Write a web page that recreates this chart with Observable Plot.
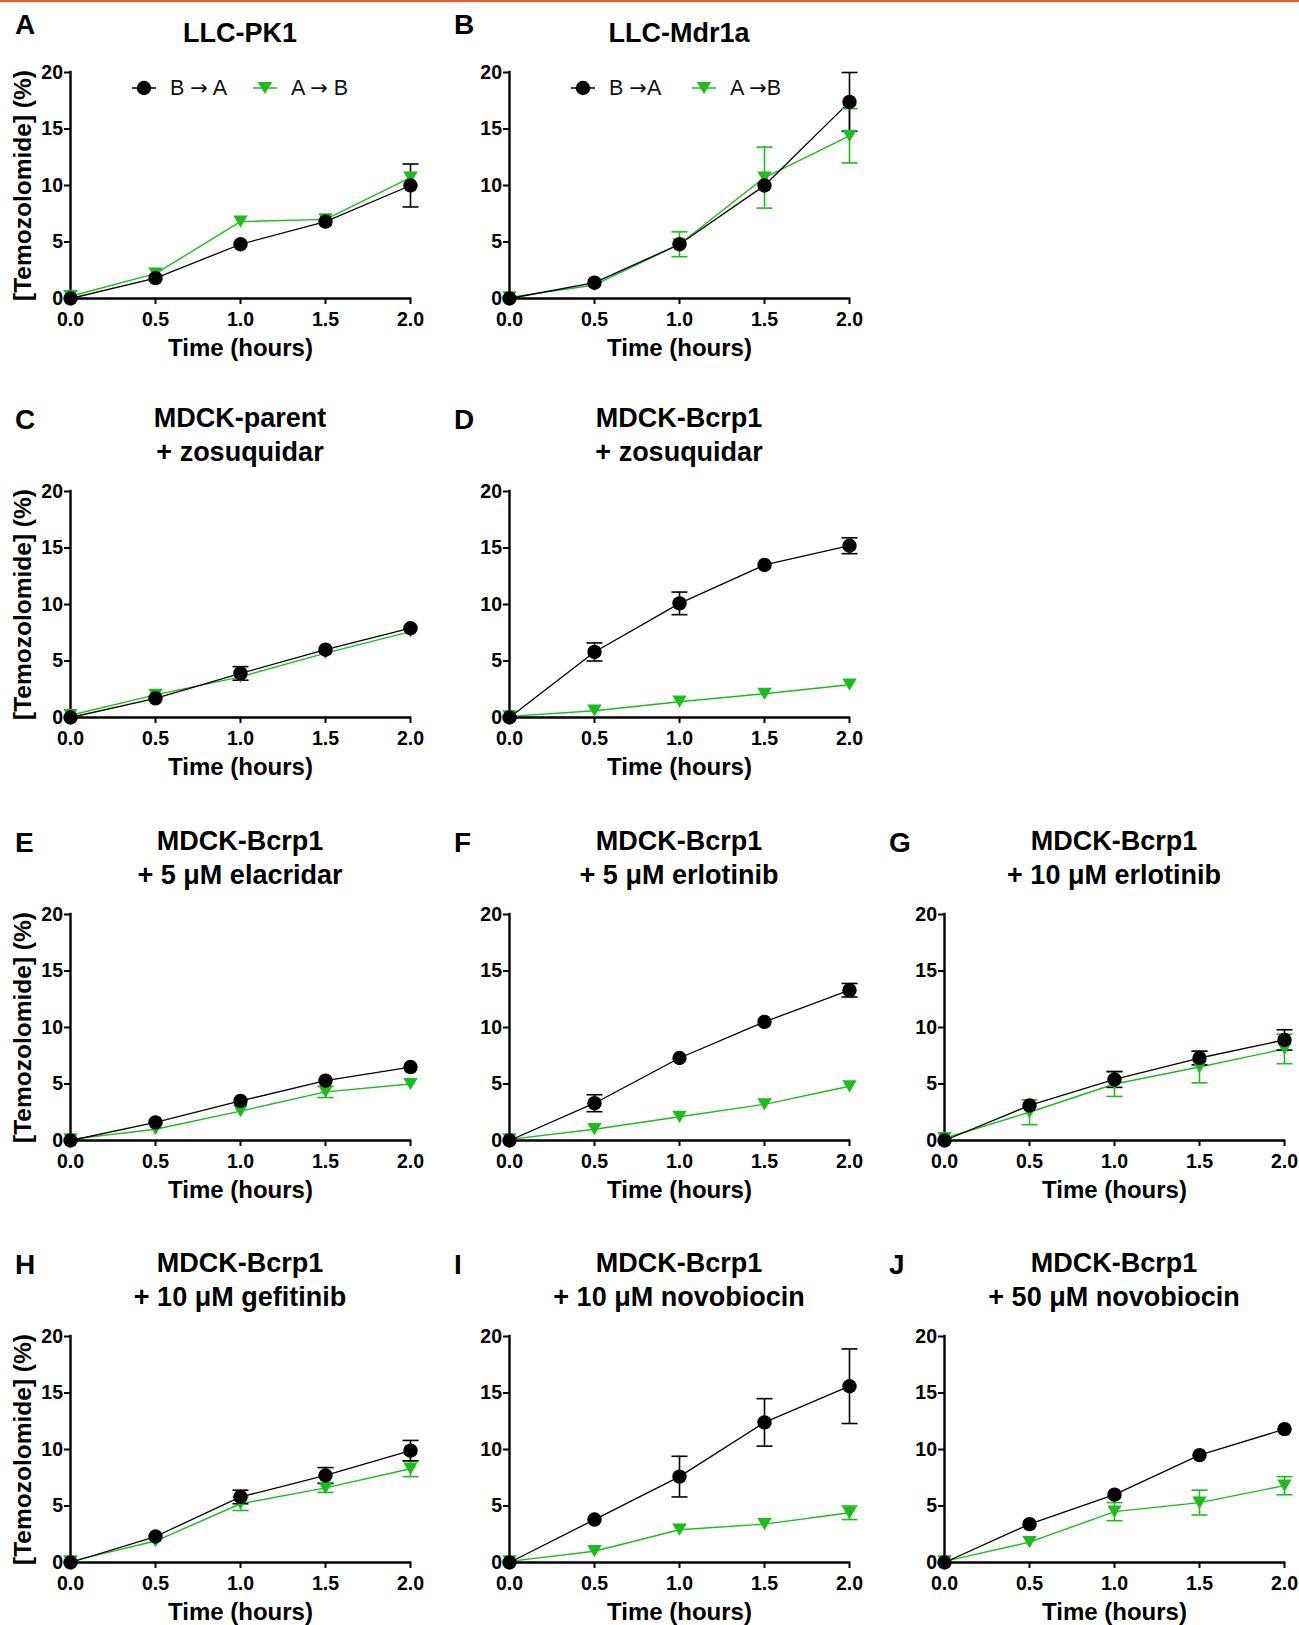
<!DOCTYPE html>
<html>
<head>
<meta charset="utf-8">
<script src="https://cdn.jsdelivr.net/npm/d3@7"></script>
<script src="https://cdn.jsdelivr.net/npm/@observablehq/plot@0.6"></script>
<style>
  html, body { margin: 0; padding: 0; background: #fff; }
  body { width: 1299px; height: 1625px; position: relative; overflow: hidden;
         font-family: "Liberation Sans", Arial, Helvetica, sans-serif; color: #000; }
  .topbar { position: absolute; left: 0; top: 0; width: 1299px; height: 2px; background: #f05a28; }
  .panel { position: absolute; }
  .panel svg { overflow: visible; max-width: none !important; }
  .letter { position: absolute; font-weight: bold; font-size: 28px; line-height: 28px; white-space: nowrap; }
  .title { position: absolute; font-weight: bold; font-size: 27px; line-height: 34px; text-align: center; white-space: nowrap; }
  .legend-item { position: absolute; font-size: 21.5px; line-height: 22px; white-space: nowrap; color: #111; }
  .legend-item .arr { font-family: "DejaVu Sans", sans-serif; font-size: 21px; font-weight: normal; }
  .legend-sym { position: absolute; }
</style>
</head>
<body>
<div class="topbar"></div>
<div id="root"></div>
<script>
// ---------- data ----------
const time = [0, 0.5, 1.0, 1.5, 2.0];
const xTicks = [0, 0.5, 1.0, 1.5, 2.0];
const yTicks = [0, 5, 10, 15, 20];
const xDomain = [0, 2];
const yDomain = [0, 20];

const panelLetters = ["A", "B", "C", "D", "E", "F", "G", "H", "I", "J"];
const panelTitles = [
  ["LLC-PK1"],
  ["LLC-Mdr1a"],
  ["MDCK-parent", "+ zosuquidar"],
  ["MDCK-Bcrp1", "+ zosuquidar"],
  ["MDCK-Bcrp1", "+ 5 \u03bcM elacridar"],
  ["MDCK-Bcrp1", "+ 5 \u03bcM erlotinib"],
  ["MDCK-Bcrp1", "+ 10 \u03bcM erlotinib"],
  ["MDCK-Bcrp1", "+ 10 \u03bcM gefitinib"],
  ["MDCK-Bcrp1", "+ 10 \u03bcM novobiocin"],
  ["MDCK-Bcrp1", "+ 50 \u03bcM novobiocin"]
];

// B -> A (black circles): mean and error per panel
const baMeans = [
  [0, 1.8, 4.8, 6.8, 10.0],
  [0, 1.4, 4.8, 10.0, 17.4],
  [0, 1.7, 3.9, 6.0, 7.9],
  [0, 5.8, 10.1, 13.5, 15.2],
  [0, 1.6, 3.5, 5.3, 6.5],
  [0, 3.3, 7.3, 10.5, 13.3],
  [0, 3.1, 5.4, 7.3, 8.9],
  [0, 2.3, 5.8, 7.7, 9.9],
  [0, 3.8, 7.6, 12.4, 15.6],
  [0, 3.4, 6.0, 9.5, 11.8]
];
const baErrors = [
  [0, 0, 0, 0, 1.9],
  [0, 0, 0, 0, 2.6],
  [0, 0, 0.6, 0, 0],
  [0, 0.8, 1.0, 0, 0.7],
  [0, 0, 0, 0, 0],
  [0, 0.75, 0, 0, 0.6],
  [0, 0, 0.7, 0.6, 0.9],
  [0, 0, 0.6, 0.7, 0.9],
  [0, 0, 1.8, 2.1, 3.3],
  [0, 0, 0, 0, 0]
];
// A -> B (green triangles)
const abMeans = [
  [0.2, 2.2, 6.8, 7.0, 10.7],
  [0.1, 1.2, 4.8, 10.7, 14.4],
  [0.2, 2.0, 3.6, 5.7, 7.6],
  [0.1, 0.6, 1.4, 2.1, 2.9],
  [0.1, 1.0, 2.6, 4.3, 5.0],
  [0.1, 1.0, 2.1, 3.2, 4.8],
  [0.2, 2.5, 5.0, 6.5, 8.1],
  [0.1, 1.9, 5.2, 6.6, 8.3],
  [0.1, 1.0, 2.9, 3.4, 4.4],
  [0.1, 1.8, 4.5, 5.3, 6.8]
];
const abErrors = [
  [0, 0, 0, 0, 0],
  [0, 0, 1.1, 2.7, 2.4],
  [0, 0, 0, 0, 0],
  [0, 0, 0, 0, 0],
  [0, 0, 0, 0.5, 0],
  [0, 0, 0, 0, 0],
  [0, 1.1, 1.1, 1.4, 1.3],
  [0, 0, 0.6, 0.4, 0.7],
  [0, 0, 0, 0, 0.6],
  [0, 0, 0.8, 1.1, 0.8]
];
// legend labels: [from, spacing before arrow, spacing after arrow, to]
const legendLabelsA = [["B", " ", " ", "A"], ["A", " ", " ", "B"]];
const legendLabelsB = [["B", " ", "", "A"], ["A", " ", "", "B"]];

// ---------- layout / style ----------
const GREEN = "#1dbb1d";
const colLeft = [70, 509, 944];
const rowTop = [72, 491, 914, 1336];
const plotW = 340, plotH = 226;
const M = {left: 70, right: 22, top: 12, bottom: 72};
const panelGrid = [[0,0],[0,1],[1,0],[1,1],[2,0],[2,1],[2,2],[3,0],[3,1],[3,2]];

const triDown = {
  draw(ctx, size) {
    const w = Math.sqrt(size / Math.PI);
    ctx.moveTo(-w, -0.85 * w);
    ctx.lineTo(w, -0.85 * w);
    ctx.lineTo(0, 0.85 * w);
    ctx.closePath();
  }
};
const capSym = {
  draw(ctx, size) {
    const w = Math.sqrt(size / Math.PI);
    ctx.moveTo(-w, 0);
    ctx.lineTo(w, 0);
  }
};

const root = document.getElementById("root");

function makePanel(i) {
  const [r, c] = panelGrid[i];
  const left = colLeft[c], top = rowTop[r];
  const rows = time.map((t, j) => ({
    t, ba: baMeans[i][j], baE: baErrors[i][j], ab: abMeans[i][j], abE: abErrors[i][j]
  }));
  const baBars = rows.filter(d => d.baE > 0);
  const abBars = rows.filter(d => d.abE > 0);
  const showYLabel = c === 0;
  const W = M.left + plotW + M.right, H = M.top + plotH + M.bottom;

  const chart = Plot.plot({
    width: W,
    height: H,
    marginLeft: M.left, marginRight: M.right, marginTop: M.top, marginBottom: M.bottom,
    x: {domain: xDomain},
    y: {domain: yDomain},
    style: {fontFamily: "'Liberation Sans', Arial, sans-serif", fontWeight: "bold", color: "#000", background: "transparent", overflow: "visible", maxWidth: "none"},
    marks: [
      Plot.axisX(xTicks, {tickSize: 6, tickPadding: 8, tickFormat: d3.format(".1f"), label: null, strokeWidth: 2, fontSize: 19.5}),
      Plot.axisX([], {label: "Time (hours)", labelAnchor: "center", labelArrow: "none", labelOffset: 57, fontSize: 24}),
      Plot.axisY(yTicks, {tickSize: 6, tickPadding: 1.5, label: null, strokeWidth: 2, fontSize: 19.5}),
      showYLabel ? Plot.axisY([], {label: "[Temozolomide] (%)", labelAnchor: "center", labelArrow: "none", labelOffset: 57, fontSize: 24.5}) : null,
      Plot.ruleX([xDomain[0]], {stroke: "#000", strokeWidth: 2.4, strokeLinecap: "square"}),
      Plot.ruleY([yDomain[0]], {stroke: "#000", strokeWidth: 2.4, strokeLinecap: "square"}),
      Plot.line(rows, {x: "t", y: "ab", stroke: GREEN, strokeWidth: 1.4}),
      Plot.line(rows, {x: "t", y: "ba", stroke: "#000", strokeWidth: 1.3}),
      Plot.ruleX(abBars, {x: "t", y1: d => d.ab - d.abE, y2: d => d.ab + d.abE, stroke: GREEN, strokeWidth: 1.6}),
      Plot.dot(abBars, {x: "t", y: d => d.ab + d.abE, symbol: capSym, r: 8, stroke: GREEN, strokeWidth: 1.6, fill: "none"}),
      Plot.dot(abBars, {x: "t", y: d => d.ab - d.abE, symbol: capSym, r: 8, stroke: GREEN, strokeWidth: 1.6, fill: "none"}),
      Plot.ruleX(baBars, {x: "t", y1: d => d.ba - d.baE, y2: d => d.ba + d.baE, stroke: "#000", strokeWidth: 1.6}),
      Plot.dot(baBars, {x: "t", y: d => d.ba + d.baE, symbol: capSym, r: 8, stroke: "#000", strokeWidth: 1.6, fill: "none"}),
      Plot.dot(baBars, {x: "t", y: d => d.ba - d.baE, symbol: capSym, r: 8, stroke: "#000", strokeWidth: 1.6, fill: "none"}),
      Plot.dot(rows, {x: "t", y: "ab", symbol: triDown, r: 7.2, fill: GREEN, stroke: "none"}),
      Plot.dot(rows, {x: "t", y: "ba", symbol: "circle", r: 7.2, fill: "#000", stroke: "none"})
    ]
  });

  const wrap = document.createElement("div");
  wrap.className = "panel";
  wrap.style.left = (left - M.left) + "px";
  wrap.style.top = (top - M.top) + "px";
  wrap.style.width = W + "px";
  wrap.style.height = H + "px";
  wrap.appendChild(chart);
  root.appendChild(wrap);

  // title (last baseline 30px above the top of the plot)
  const lines = panelTitles[i];
  const t = document.createElement("div");
  t.className = "title";
  t.style.left = left + "px";
  t.style.width = plotW + "px";
  t.style.top = (top - 30 - 26 - 34 * (lines.length - 1)) + "px";
  t.innerHTML = lines.join("<br>");
  root.appendChild(t);

  // panel letter
  const L = document.createElement("div");
  L.className = "letter";
  L.textContent = panelLetters[i];
  L.style.left = (left - 55) + "px";
  const letterBase = lines.length === 1 ? top - 37 : top - 61;
  L.style.top = (letterBase - 24) + "px";
  root.appendChild(L);

  // legend (panels A and B)
  if (i <= 1) {
    const labels = i === 0 ? legendLabelsA : legendLabelsB;
    const cy = top + 16;
    const entries = [
      {sym: "circle", color: "#000", cx: left + 74, tx: left + 100, label: labels[0]},
      {sym: "tri", color: GREEN, cx: left + 195, tx: left + 221, label: labels[1]}
    ];
    for (const e of entries) {
      const ns = "http://www.w3.org/2000/svg";
      const svg = document.createElementNS(ns, "svg");
      svg.setAttribute("width", 30); svg.setAttribute("height", 20);
      svg.setAttribute("class", "legend-sym");
      svg.style.left = (e.cx - 15) + "px";
      svg.style.top = (cy - 10) + "px";
      const ln = document.createElementNS(ns, "line");
      ln.setAttribute("x1", 3); ln.setAttribute("x2", 27); ln.setAttribute("y1", 10); ln.setAttribute("y2", 10);
      ln.setAttribute("stroke", e.color); ln.setAttribute("stroke-width", 1.5);
      svg.appendChild(ln);
      if (e.sym === "circle") {
        const ci = document.createElementNS(ns, "circle");
        ci.setAttribute("cx", 15); ci.setAttribute("cy", 10); ci.setAttribute("r", 7.2);
        ci.setAttribute("fill", e.color);
        svg.appendChild(ci);
      } else {
        const p = document.createElementNS(ns, "path");
        p.setAttribute("d", "M7.8,3.9L22.2,3.9L15,16.1Z");
        p.setAttribute("fill", e.color);
        svg.appendChild(p);
      }
      root.appendChild(svg);
      const tx = document.createElement("div");
      tx.className = "legend-item";
      const [from, s1, s2, to] = e.label;
      tx.appendChild(document.createTextNode(from + s1));
      const arr = document.createElement("span");
      arr.className = "arr";
      arr.textContent = "\u2192";
      tx.appendChild(arr);
      tx.appendChild(document.createTextNode(s2 + to));
      tx.style.left = e.tx + "px";
      tx.style.top = (cy - 11) + "px";
      root.appendChild(tx);
    }
  }
}

for (let i = 0; i < panelLetters.length; i++) makePanel(i);
</script>
</body>
</html>
